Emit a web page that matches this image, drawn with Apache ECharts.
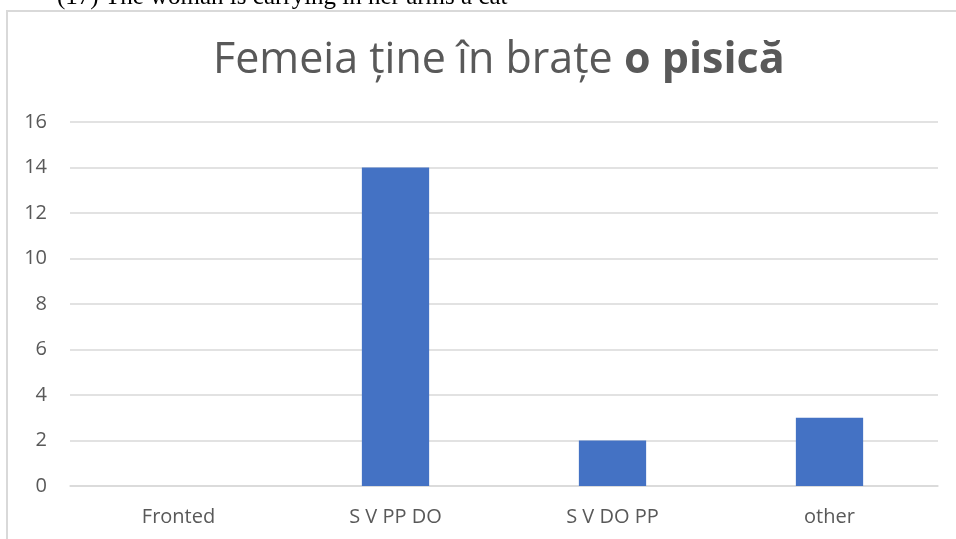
<!DOCTYPE html>
<html>
<head>
<meta charset="utf-8">
<script src="https://cdn.jsdelivr.net/npm/echarts@6/dist/echarts.min.js"></script>
<style>
html,body{margin:0;padding:0;background:#fff;}
#chart{width:956px;height:539px;}
</style>
</head>
<body>
<div id="chart"></div>
<script>
const categories = ['Fronted', 'S V PP DO', 'S V DO PP', 'other'];
const values = [0, 14, 2, 3];
const yTicks = [0, 2, 4, 6, 8, 10, 12, 14, 16];
const titleNormal = 'Femeia ține în brațe ';
const titleBold = 'o pisică';
const caption = '(17) The woman is carrying in her arms a cat';

const chart = echarts.init(document.getElementById('chart'), null, {renderer: 'canvas'});
const font = '"Open Sans", "Noto Sans", sans-serif';
chart.setOption({
  animation: false,
  backgroundColor: '#ffffff',
  graphic: [
    {type: 'rect', shape: {x: 7, y: 11, width: 970, height: 560}, style: {fill: 'none', stroke: '#d9d9d9', lineWidth: 2}, z: 0},
    {type: 'text', x: 57, y: 10, style: {text: caption, font: '25px "Liberation Serif", "DejaVu Serif", serif', fill: '#000', verticalAlign: 'bottom', textVerticalAlign: 'bottom'}, z: 10}
  ],
  title: {
    text: '{n|' + titleNormal + '}{b|' + titleBold + '}',
    left: 208,
    top: 34,
    textStyle: {
      rich: {
        n: {fontFamily: font, fontSize: 43, color: '#595959', fontWeight: 'normal'},
        b: {fontFamily: font, fontSize: 43, color: '#595959', fontWeight: 'bold'}
      }
    }
  },
  grid: {left: 70, right: 18, top: 122, bottom: 53, containLabel: false},
  xAxis: {
    type: 'category',
    data: categories,
    axisLine: {show: true, lineStyle: {color: '#d9d9d9', width: 1.5}},
    axisTick: {show: false},
    axisLabel: {color: '#595959', fontFamily: font, fontSize: 20, margin: 21}
  },
  yAxis: {
    type: 'value',
    min: 0,
    max: yTicks[yTicks.length - 1],
    interval: 2,
    axisLine: {show: false},
    axisTick: {show: false},
    splitLine: {lineStyle: {color: '#d9d9d9', width: 1.5}},
    axisLabel: {color: '#595959', fontFamily: font, fontSize: 20, margin: 23}
  },
  series: [{
    type: 'bar',
    data: values,
    barWidth: '31%',
    itemStyle: {color: '#4472c4'}
  }]
});
</script>
</body>
</html>
